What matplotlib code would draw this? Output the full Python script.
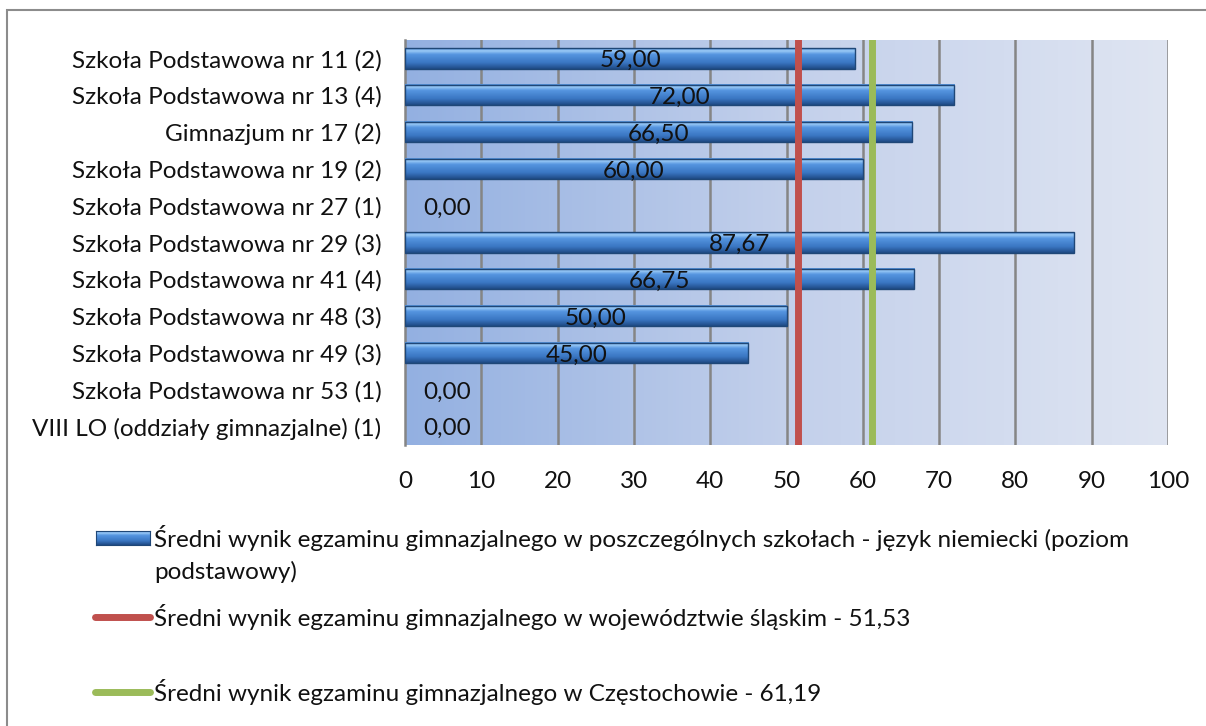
import numpy as np
import matplotlib.pyplot as plt
from matplotlib.patches import Rectangle
from matplotlib.lines import Line2D
from matplotlib.colors import LinearSegmentedColormap

schools = ["Szkoła Podstawowa nr 11 (2)", "Szkoła Podstawowa nr 13 (4)", "Gimnazjum nr 17 (2)",
           "Szkoła Podstawowa nr 19 (2)", "Szkoła Podstawowa nr 27 (1)", "Szkoła Podstawowa nr 29 (3)",
           "Szkoła Podstawowa nr 41 (4)", "Szkoła Podstawowa nr 48 (3)", "Szkoła Podstawowa nr 49 (3)",
           "Szkoła Podstawowa nr 53 (1)", "VIII LO (oddziały gimnazjalne) (1)"]
scores = [59.00, 72.00, 66.50, 60.00, 0.00, 87.67, 66.75, 50.00, 45.00, 0.00, 0.00]
avg_slaskie = 51.53
avg_czestochowa = 61.19

label_bars = "Średni wynik egzaminu gimnazjalnego w poszczególnych szkołach - język niemiecki (poziom\npodstawowy)"
label_red = "Średni wynik egzaminu gimnazjalnego w województwie śląskim - 51,53"
label_green = "Średni wynik egzaminu gimnazjalnego w Częstochowie - 61,19"

plt.rcParams['font.family'] = ['Lato', 'DejaVu Sans']
fs = 17.5
txt_color = '#111111'

fig = plt.figure(figsize=(12.06, 7.26), dpi=100)
W, H = 1206, 726

def fx(px):
    return px / W

def fy(py):
    return 1 - py / H

# outer chart frame (right and bottom edges fall outside the picture)
fig.add_artist(Rectangle((fx(7), fy(760)), fx(1240) - fx(7), fy(10) - fy(760),
                         transform=fig.transFigure, fill=False, edgecolor='#8c8c8c', lw=1.5))

ax = fig.add_axes([fx(405), fy(445), fx(1168) - fx(405), fy(40) - fy(445)])

n = len(schools)
y = np.arange(n)

# gradient plot area
grad = np.linspace(0, 1, 256).reshape(1, -1)
bg_cmap = LinearSegmentedColormap.from_list('bg', ['#93b0e1', '#c3d0eb', '#dfe5f2'])
ax.imshow(grad, extent=[0, 100, n - 0.5, -0.5], aspect='auto', cmap=bg_cmap, zorder=0)

for xv in range(10, 101, 10):
    ax.axvline(xv, color='#858585', lw=1.8, zorder=1)

# bevelled bars: vertical gradient inside each bar
bar_h = 0.55
bar_cmap = LinearSegmentedColormap.from_list(
    'bar', [(0, '#4a88d4'), (0.12, '#9ccbf7'), (0.3, '#5595e0'), (0.7, '#3a76c2'), (1, '#1f4a85')])
vgrad = np.linspace(0, 1, 64).reshape(-1, 1)
for yi, v in zip(y, scores):
    if v <= 0:
        continue
    ax.imshow(vgrad, extent=[0, v, yi + bar_h / 2, yi - bar_h / 2], aspect='auto',
              cmap=bar_cmap, zorder=3, interpolation='bilinear')
ax.barh(y, scores, height=bar_h, fill=False, edgecolor=['#1f4777' if v > 0 else 'none' for v in scores],
        lw=1.0, zorder=4)
ax.set_xlim(0, 100)
ax.set_ylim(n - 0.5, -0.5)

for yi, v in zip(y, scores):
    xt = v / 2 if v > 0 else 5.5
    ax.text(xt, yi + 0.06, f"{v:.2f}".replace('.', ','), ha='center', va='center', fontsize=fs,
            color=txt_color, zorder=6)

ax.axvline(avg_slaskie, color='#c0504d', lw=5, zorder=5)
ax.axvline(avg_czestochowa, color='#9bbb59', lw=5, zorder=5)

ax.set_xticks(range(0, 101, 10))
ax.set_yticks(y)
ax.set_yticklabels(schools)
ax.tick_params(axis='both', length=0, labelsize=fs, colors=txt_color)
ax.tick_params(axis='y', pad=17)
ax.tick_params(axis='x', pad=19)
for s in ['top', 'right', 'bottom']:
    ax.spines[s].set_visible(False)
ax.spines['left'].set_color('#858585')
ax.spines['left'].set_linewidth(1.8)

# legend, drawn by hand to keep the uneven spacing
lax = fig.add_axes([fx(96), fy(545), fx(150) - fx(96), fy(531) - fy(545)])
lax.imshow(vgrad, extent=[0, 1, 1, 0], aspect='auto', cmap=bar_cmap, interpolation='bilinear')
lax.set_xticks([])
lax.set_yticks([])
for s in lax.spines.values():
    s.set_color('#1f4777')
for i, line in enumerate(label_bars.split('\n')):
    fig.text(fx(154), fy(538 + 34 * i), line, fontsize=fs, va='center', ha='left', color=txt_color)
fig.add_artist(Line2D([fx(95), fx(150)], [fy(617), fy(617)], transform=fig.transFigure,
                      color='#c0504d', lw=5, solid_capstyle='round'))
fig.text(fx(154), fy(617), label_red, fontsize=fs, va='center', ha='left', color=txt_color)
fig.add_artist(Line2D([fx(95), fx(150)], [fy(692), fy(692)], transform=fig.transFigure,
                      color='#9bbb59', lw=5, solid_capstyle='round'))
fig.text(fx(154), fy(692), label_green, fontsize=fs, va='center', ha='left', color=txt_color)

fig.savefig("out.png", dpi=100)
